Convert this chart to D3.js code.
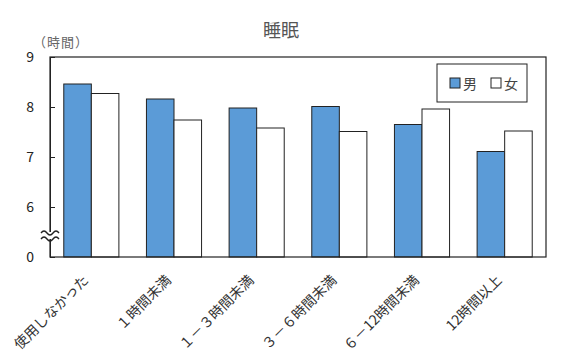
<!DOCTYPE html>
<html>
<head>
<meta charset="utf-8">
<script src="https://cdn.jsdelivr.net/npm/d3@7"></script>
<style>
  body { margin: 0; background: #fff; }
  text { font-family: "Noto Sans CJK JP", sans-serif; }
</style>
</head>
<body>
<div id="viz"></div>
<script>
// data
const categories = ["使用しなかった", "１時間未満", "１－３時間未満", "３－６時間未満", "６－12時間未満", "12時間以上"]
const maleValues   = [8.46, 8.16, 7.98, 8.01, 7.65, 7.11]
const femaleValues = [8.27, 7.74, 7.58, 7.51, 7.96, 7.52]
const seriesNames  = ["男", "女"]
const yTickValues  = [5, 6, 7, 8, 9]   // 5 sits on the broken axis and reads "0"

const W = 567, H = 355
const margin = { top: 57, right: 21, bottom: 98, left: 50 }
const colors = ["#5b9bd7", "#ffffff"]

const svg = d3.select("#viz").append("svg")
    .attr("width", W).attr("height", H)

const pw = W - margin.left - margin.right
const ph = H - margin.top - margin.bottom
const g = svg.append("g").attr("transform", `translate(${margin.left},${margin.top})`)

const x = d3.scaleBand().domain(categories).range([0, pw])
    .paddingInner(1/3).paddingOuter(1/6)
const xs = d3.scaleBand().domain(seriesNames).range([0, x.bandwidth()])
const y = d3.scaleLinear().domain([5, 9]).range([ph, 0])

// title
svg.append("text").text("睡眠")
    .attr("x", 281).attr("y", 37)
    .attr("text-anchor", "middle")
    .attr("font-size", 18).attr("fill", "#555")
svg.append("text").text("（時間）")
    .attr("x", 33).attr("y", 47)
    .attr("font-size", 13).attr("fill", "#666")
    .attr("letter-spacing", 1)

// bars
const rows = categories.map((c, i) => ({ c, v: [maleValues[i], femaleValues[i]] }))
const grp = g.selectAll("g.grp").data(rows).join("g")
    .attr("transform", d => `translate(${x(d.c)},0)`)
grp.selectAll("rect").data(d => d.v.map((v, j) => ({ v, s: seriesNames[j], j })))
  .join("rect")
    .attr("x", d => xs(d.s))
    .attr("y", d => y(d.v))
    .attr("width", xs.bandwidth())
    .attr("height", d => ph - y(d.v))
    .attr("fill", d => colors[d.j])
    .attr("stroke", "#222").attr("stroke-width", 1)

// frame
g.append("rect").attr("width", pw).attr("height", ph)
    .attr("fill", "none").attr("stroke", "#222").attr("stroke-width", 1.2)

// y axis
const yAxis = g.append("g").call(d3.axisLeft(y)
    .tickValues(yTickValues)
    .tickSize(-5)
    .tickPadding(16)
    .tickFormat(d => d === 5 ? "0" : d))
yAxis.select(".domain").attr("stroke", "#222")
yAxis.selectAll(".tick line").attr("stroke", "#222")
yAxis.selectAll("text").attr("font-size", 14).attr("fill", "#222")
    .attr("font-family", "Liberation Sans, sans-serif")

// axis break mark
const yb = (y(5) + y(6)) / 2 + 4
const brk = g.append("g").attr("transform", `translate(0,${yb})`)
brk.append("rect").attr("x", -1.5).attr("y", -4).attr("width", 3).attr("height", 7).attr("fill", "#fff")
const wave = d => `M-9,${d} q3,-4 6,0 t6,0 t6,0`
brk.append("path").attr("d", wave(-3)).attr("fill", "none").attr("stroke", "#222").attr("stroke-width", 1.3)
brk.append("path").attr("d", wave(3)).attr("fill", "none").attr("stroke", "#222").attr("stroke-width", 1.3)

// x labels
g.append("g").selectAll("text").data(categories).join("text")
    .text(d => d)
    .attr("transform", d => `translate(${x(d) + x.bandwidth() / 2 - 2},${ph + 24}) rotate(-45)`)
    .attr("text-anchor", "end")
    .attr("font-size", 14).attr("fill", "#333")

// legend
const lg = svg.append("g").attr("transform", "translate(437,64)")
lg.append("rect").attr("width", 90).attr("height", 38)
    .attr("fill", "#fff").attr("stroke", "#222")
seriesNames.forEach((s, i) => {
  lg.append("rect").attr("x", 13 + i * 41).attr("y", 14).attr("width", 10).attr("height", 10)
      .attr("fill", colors[i]).attr("stroke", "#222")
  lg.append("text").text(s).attr("x", 26 + i * 41).attr("y", 25)
      .attr("font-size", 14).attr("fill", "#444")
})
</script>
</body>
</html>
